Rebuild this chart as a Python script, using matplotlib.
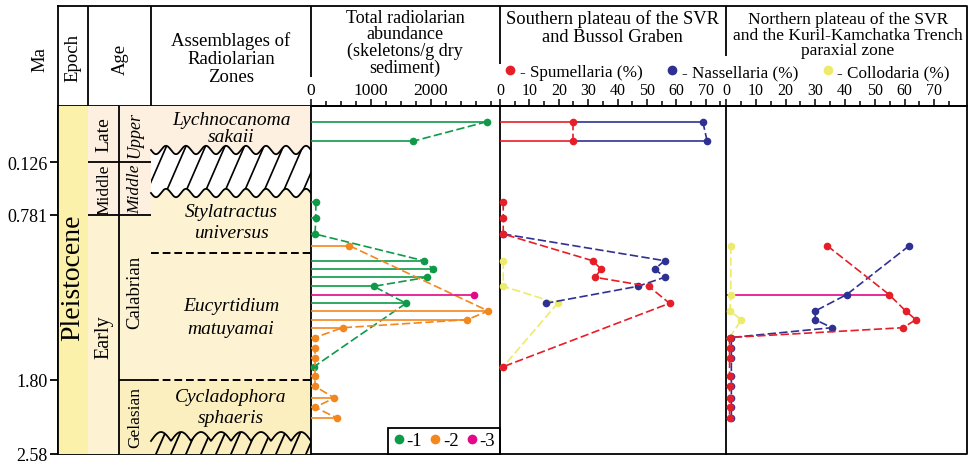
import numpy as np
import matplotlib
matplotlib.use('Agg')
import matplotlib.pyplot as plt
from matplotlib.lines import Line2D
from matplotlib.patches import Polygon, Rectangle

plt.rcParams['font.family'] = ['Liberation Serif', 'DejaVu Serif']

nan = np.nan

# sample levels are measured down from the top of the section (column units, 0..348)
# set 1 (green) - southern plateau of the SVR and Bussol Graben
lev1 = [15.7, 35.3, 96.3, 112.3, 128, 154.7, 163, 171.3, 180.3, 197.3, 260.7]
abund1 = [2933, 1695, 80, 80, 67, 1878, 2028, 1933, 1045, 1583, 50]
spum1 = [24.7, 24.7, 1.1, 1.1, 1.1, 31.5, 34.4, 32.4, 50.6, 57.7, 1.1]
nass1 = [69, 70.5, nan, nan, 1.1, 56, 52.7, 56, 46.9, 15.6, nan]
coll1 = [nan, nan, nan, nan, nan, 1.1, nan, nan, 1.1, 19.6, 1.1]

# set 2 (orange) - northern plateau of the SVR and Kuril-Kamchatka Trench
lev2 = [139.7, 205, 213.7, 221.7, 231.5, 242, 252, 270.3, 280.3, 292, 301.3, 312]
abund2 = [640, 2955, 2600, 528, 67, 67, 67, 67, 67, 389, 67, 433]
spum2 = [34, 60.4, 63.8, 59.5, 1.2, 1.2, 1.2, 1.2, 1.2, 1.2, 1.2, 1.2]
nass2 = [61.6, 30, 30, 35.6, 1.8, 1.8, 1.8, 1.8, 1.8, 1.8, 1.8, 1.8]
coll2 = [1.6, 1.3, 5.2, nan, 1.2, nan, nan, nan, nan, nan, nan, nan]

# set 3 (magenta)
lev3 = [188.5]
abund3 = [2722]
spum3 = [54.8]
nass3 = [40.6]
coll3 = [1.6]

ma_levels = [56, 109, 273.5, 348]
ma_labels = ['0.126', '0.781', '1.80', '2.58']

GREEN, ORANGE, MAGENTA = '#0e9a48', '#f2871f', '#e4078a'
RED, BLUE, YELLOW = '#e61e28', '#2f3192', '#eeea6c'
PEACH, LIGHT, YEL, EPOCH = '#fdf0e0', '#fdf3d3', '#fcefbf', '#fcf1ab'

# layout, pixels
W, H = 977, 464
TOP, HDR, BOT = 7, 107, 455
X0, X_AGE, X_AGE2, X_ZONE, X_AB, X_S, X_N, X_END = 58, 88, 119, 151, 311, 500, 726, 967
DEPTH = BOT - HDR
HIATUS = 65   # profiles are not joined across the hatched gap
LW = 1.3


def rect(x0, x1, y0=HDR, y1=BOT):
    return [x0 / W, 1 - y1 / H, (x1 - x0) / W, (y1 - y0) / H]


def profile(ax, lev, val, color, z):
    lev = np.asarray(lev, float)
    val = np.asarray(val, float)
    ok = ~np.isnan(val)
    lev, val = lev[ok], val[ok]
    o = np.argsort(lev)
    lev, val = lev[o], val[o]
    for part in (lev < HIATUS, lev > HIATUS):
        ax.plot(val[part], lev[part], color=color, lw=1.2, dashes=(5, 2), zorder=z)
    ax.plot(val, lev, 'o', color=color, ms=5.5, mew=0, zorder=z + 0.5, clip_on=False)


def data_axes(x0, x1, xmax, major, minor, size):
    ax = fig.add_axes(rect(x0, x1))
    ax.set_facecolor('none')
    ax.set_xlim(0, xmax)
    ax.set_ylim(DEPTH, 0)
    ax.set_yticks([])
    ax.set_xticks(major)
    ax.set_xticks(minor, minor=True)
    ax.xaxis.set_ticks_position('top')
    ax.tick_params(axis='x', which='major', direction='out', length=5, width=1.1,
                   pad=1, labelsize=size)
    ax.tick_params(axis='x', which='minor', direction='out', length=3.5, width=1.1)
    for s in ('right', 'bottom'):
        ax.spines[s].set_visible(False)
    for s in ('left', 'top'):
        ax.spines[s].set_linewidth(LW)
    return ax


fig = plt.figure(figsize=(W / 100, H / 100), dpi=100)

# ---- frame and header -------------------------------------------------
bg = fig.add_axes([0, 0, 1, 1])
bg.set_xlim(0, W)
bg.set_ylim(H, 0)
bg.axis('off')
bg.plot([X0, X_END, X_END, X0, X0], [TOP, TOP, BOT, BOT, TOP], 'k', lw=LW)
bg.hlines(HDR, X0, X_END, color='k', lw=LW)
bg.vlines([X_AGE, X_ZONE], TOP, BOT, color='k', lw=LW)
bg.vlines(X_AB, TOP, 78, color='k', lw=LW)
bg.vlines(X_S, TOP, 65, color='k', lw=LW)
bg.vlines(X_N, TOP, 57, color='k', lw=LW)

bg.text(40, 59, 'Ma', rotation=90, ha='center', va='center', fontsize=13.5)
bg.text(73, 58, 'Epoch', rotation=90, ha='center', va='center', fontsize=13.5)
bg.text(120, 59, 'Age', rotation=90, ha='center', va='center', fontsize=13.5)
bg.text(231, 59, 'Assemblages of\nRadiolarian\nZones', ha='center', va='center',
        fontsize=13.5, linespacing=1.1)
bg.text(405, 43.5, 'Total radiolarian\nabundance\n(skeletons/g dry\nsediment)',
        ha='center', va='center', fontsize=13, linespacing=0.98)
bg.text(612, 28, 'Southern plateau of the SVR\nand Bussol Graben', ha='center',
        va='center', fontsize=13.3, linespacing=1.1)
bg.text(848, 35.5, 'Northern plateau of the SVR\nand the Kuril-Kamchatka Trench\nparaxial zone',
        ha='center', va='center', fontsize=12.5, linespacing=0.98)

# ---- stratigraphic columns -------------------------------------------
st = fig.add_axes(rect(X0, X_AB))
st.set_facecolor('none')
st.set_xlim(X0, X_AB)
st.set_ylim(DEPTH, 0)
st.set_xticks([])
st.set_yticks(ma_levels)
st.set_yticklabels(ma_labels)
st.tick_params(axis='y', direction='out', length=6, width=LW, pad=1.5, labelsize=13)
for s in ('right', 'top', 'bottom'):
    st.spines[s].set_visible(False)
st.spines['left'].set_linewidth(LW)

cells = [
    (X0, X_AGE, 0, DEPTH, EPOCH),
    (X_AGE, X_ZONE, 0, ma_levels[1], PEACH),
    (X_AGE, X_AGE2, ma_levels[1], DEPTH, LIGHT),
    (X_AGE2, X_ZONE, ma_levels[1], ma_levels[2], LIGHT),
    (X_AGE2, X_ZONE, ma_levels[2], DEPTH, YEL),
    (X_ZONE, X_AB, 0, 50, PEACH),
    (X_ZONE, X_AB, 50, ma_levels[2], LIGHT),
    (X_ZONE, X_AB, ma_levels[2], DEPTH, YEL),
]
for xa, xb, ya, yb, c in cells:
    st.add_patch(Rectangle((xa, ya), xb - xa, yb - ya, fc=c, ec='none', zorder=0))

xs = np.linspace(X_ZONE, X_AB, 300)
ph = 2 * np.pi * (xs - X_ZONE) / 20
w_top = 44 + 4.2 * np.sin(ph)
w_bot = 87 + 4.2 * np.sin(ph)
gap = Polygon(np.r_[np.c_[xs, w_top], np.c_[xs[::-1], w_bot[::-1]]], fc='white',
              ec='none', zorder=1)
st.add_patch(gap)
st.plot(xs, w_top, 'k', lw=LW, zorder=3)
st.plot(xs, w_bot, 'k', lw=LW, zorder=3)
for xb in np.arange(X_ZONE - 30, X_AB + 5, 19.5):
    ln, = st.plot([xb, xb + 60 / 2.3], [100, 40], 'k', lw=1.2, zorder=2)
    ln.set_clip_path(gap)

b_top = 335 - 9 * np.abs(np.sin(np.pi * (xs - X_ZONE) / 20))
base = Polygon(np.r_[np.c_[xs, b_top], [[X_AB, DEPTH], [X_ZONE, DEPTH]]],
               fc=YEL, ec='none', zorder=1)
st.add_patch(base)
st.plot(xs, b_top, 'k', lw=LW, zorder=3)
for xb in np.arange(X_ZONE - 10, X_AB + 5, 15):
    ln, = st.plot([xb, xb + 30 / 2.3], [DEPTH, DEPTH - 30], 'k', lw=1.3, zorder=2)
    ln.set_clip_path(base)

st.vlines(X_AGE2, 0, DEPTH, color='k', lw=LW)
st.hlines(ma_levels[:2], X_AGE, X_ZONE, color='k', lw=LW)
st.hlines(ma_levels[2], X_AGE2, X_ZONE, color='k', lw=LW)
st.hlines([147, ma_levels[2]], X_ZONE, X_AB, color='k', lw=1.4, linestyles=(0, (4, 2)))

st.text(73, 171, 'Pleistocene', rotation=90, ha='center', va='center', fontsize=20)
for x, y, s, fs, sty in [(104, 28, 'Late', 14, 'normal'), (135, 28, 'Upper', 13, 'italic'),
                         (104, 82.5, 'Middle', 12.5, 'normal'),
                         (135, 82.5, 'Middle', 12.5, 'italic'),
                         (104, 230, 'Early', 14.5, 'normal'),
                         (135, 185, 'Calabrian', 13.5, 'normal'),
                         (135, 311, 'Gelasian', 12.5, 'normal')]:
    st.text(x, y, s, rotation=90, ha='center', va='center', fontsize=fs, style=sty)
for y, s in [(13.5, 'Lychnocanoma'), (30.5, 'sakaii'), (106, 'Stylatractus'),
             (127, 'universus'), (200, 'Eucyrtidium'), (223, 'matuyamai'),
             (291, 'Cycladophora'), (312, 'sphaeris')]:
    st.text(231, y, s, ha='center', va='center', fontsize=14, style='italic')

# ---- total abundance -------------------------------------------------
ab = data_axes(X_AB, X_S, 3150, [0, 1000, 2000], np.arange(0, 3001, 250), 12.5)
for lev, val, c, z in [(lev1, abund1, GREEN, 3), (lev2, abund2, ORANGE, 4),
                       (lev3, abund3, MAGENTA, 5)]:
    ab.hlines(lev, 0, val, color=c, lw=1.2, zorder=z)
    profile(ab, lev, val, c, z)
leg = ab.legend([Line2D([], [], ls='none', marker='o', ms=7, mew=0, color=c)
                 for c in (GREEN, ORANGE, MAGENTA)], ['-1', '-2', '-3'], ncol=3,
                loc='lower right', borderaxespad=0, fancybox=False, edgecolor='k',
                framealpha=1, handlelength=0.6, handletextpad=0.12, columnspacing=0.4,
                borderpad=0.25, fontsize=13.5)
leg.get_frame().set_linewidth(LW)
leg.set_zorder(10)

# ---- southern plateau ------------------------------------------------
pct_major = np.arange(0, 71, 10)
so = data_axes(X_S, X_N, 76.9, pct_major, np.arange(5, 76, 10), 11.5)
top = np.asarray(lev1) < HIATUS
so.hlines(np.asarray(lev1)[top], 0, np.asarray(spum1)[top], color=RED, lw=1.2, zorder=3)
so.hlines(np.asarray(lev1)[top], np.asarray(spum1)[top], np.asarray(nass1)[top],
          color=BLUE, lw=1.2, zorder=3)
profile(so, lev1, coll1, YELLOW, 3)
profile(so, lev1, nass1, BLUE, 4)
profile(so, lev1, spum1, RED, 5)

# ---- northern plateau ------------------------------------------------
no = data_axes(X_N, X_END, 81, pct_major, np.arange(5, 76, 10), 11.5)
lev_n = lev2 + lev3
no.hlines(lev3, 0, spum3, color=MAGENTA, lw=1.2, zorder=2)
profile(no, lev_n, coll2 + coll3, YELLOW, 3)
profile(no, lev_n, nass2 + nass3, BLUE, 4)
profile(no, lev_n, spum2 + spum3, RED, 5)

fig.legend([Line2D([], [], ls='none', marker='o', ms=7, mew=0, color=c)
            for c in (RED, BLUE, YELLOW)],
           ['- Spumellaria (%)', '- Nassellaria (%)', '- Collodaria (%)'], ncol=3,
           loc='center left', bbox_to_anchor=(505 / W, 1 - 73 / H), frameon=False,
           handlelength=0.6, handletextpad=0.25, columnspacing=1.45, borderpad=0,
           borderaxespad=0, fontsize=12.3)

fig.savefig('out.png', dpi=100, facecolor='white')
